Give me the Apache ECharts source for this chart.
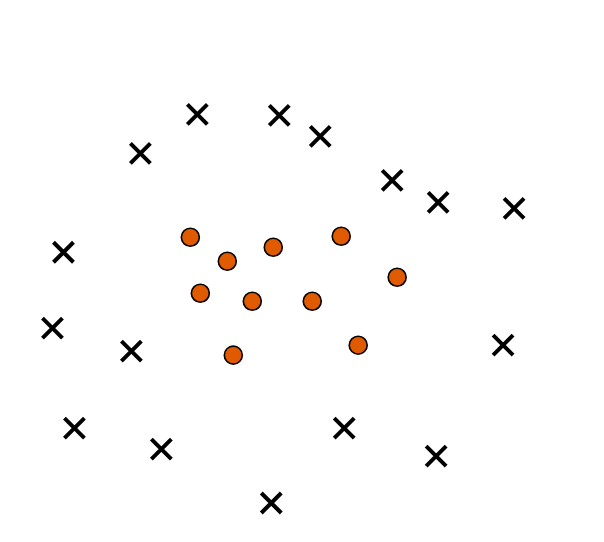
<!DOCTYPE html>
<html><head><meta charset="utf-8">
<script src="https://cdn.jsdelivr.net/npm/echarts@6/dist/echarts.min.js"></script>
<style>html,body{margin:0;padding:0;background:#fff}#c{width:604px;height:542px}</style>
</head><body><div id="c"></div>
<script>
const crossX = [197,279,320,140,392,438,514,63,52,131,503,74,161,344,436,271];
const crossY = [114,115,136,153,180,202,208,252,328,351,345,428,449,428,456,503];
const dotX = [190,227,273,341,397,200,252,312,358,233];
const dotY = [237,261,247,236,277,293,301,301,345,355];

const chart = echarts.init(document.getElementById('c'));
chart.setOption({
  animation:false,
  grid:{left:0.5,right:-0.5,top:0.5,bottom:-0.5},
  xAxis:{type:'value',min:0,max:604,show:false},
  yAxis:{type:'value',min:0,max:542,inverse:true,show:false},
  series:[
    {type:'scatter',data:crossX.map((x,i)=>[x,crossY[i]]),
     symbol:'path://M0,0L10,10M10,0L0,10',symbolSize:20,
     itemStyle:{color:'rgba(0,0,0,0)',borderColor:'#000',borderWidth:4,opacity:1}},
    {type:'scatter',data:dotX.map((x,i)=>[x,dotY[i]]),
     symbol:'circle',symbolSize:18,
     itemStyle:{color:'#e05a00',borderColor:'#000',borderWidth:1.6,opacity:1}}
  ]
});
</script></body></html>
